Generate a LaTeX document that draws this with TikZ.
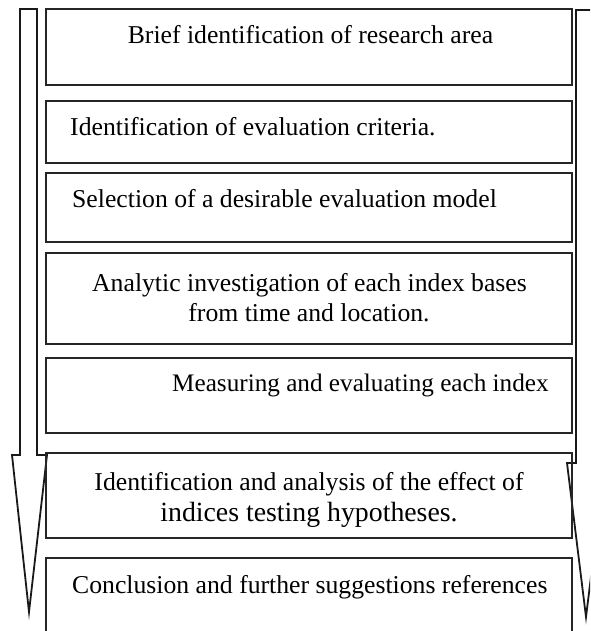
\documentclass[tikz,border=0pt]{standalone}
\usepackage{fontspec}
\setmainfont{Liberation Serif}
\begin{document}
\begin{tikzpicture}[x=1pt,y=-1pt,
  stepbox/.style={draw=black!85, line width=1.7pt, rectangle, inner sep=0pt},
  arrowshape/.style={draw=black!90, line width=1.8pt, fill=white, line join=miter},
  txt/.style={inner sep=0pt, font=\fontsize{25.7}{30}\selectfont, text=black},
  bigtxt/.style={inner sep=0pt, font=\fontsize{27.8}{32}\selectfont, text=black}]
\useasboundingbox (0,0) rectangle (590,631);
\clip (0,0) rectangle (590,631);
% left down arrow
\draw[arrowshape] (20,9) -- (37,9) -- (37,455) -- (47,455) -- (29,612) -- (12,455) -- (20,455) -- cycle;
% right down arrow (cut by the edge)
\draw[arrowshape] (576,10) -- (594,10) -- (594,463) -- (605,463) -- (586,617) -- (567,463) -- (576,463) -- cycle;
% boxes
\node[stepbox, minimum width=526pt, minimum height=76pt] (b1) at (309,47) {};
\node[stepbox, minimum width=526pt, minimum height=62pt] (b2) at (309,132) {};
\node[stepbox, minimum width=526pt, minimum height=69pt] (b3) at (309,207.5) {};
\node[stepbox, minimum width=526pt, minimum height=91pt] (b4) at (309,298.5) {};
\node[stepbox, minimum width=526pt, minimum height=75pt] (b5) at (309,395.5) {};
\node[stepbox, minimum width=526pt, minimum height=85pt] (b6) at (309,495.5) {};
\node[stepbox, minimum width=526pt, minimum height=100pt] (b7) at (309,608) {};
% texts
\node[txt, anchor=base] (t1) at (310.5,43.5) {Brief identification of research area};
\node[txt, anchor=base west] (t2) at (70,136) {Identification of evaluation criteria.};
\node[txt, anchor=base west] (t3) at (72,207.5) {Selection of a desirable evaluation model};
\node[txt, anchor=base] (t4a) at (309.5,291.5) {Analytic investigation of each index bases};
\node[txt, anchor=base] (t4b) at (309,321) {from time and location.};
\node[txt, anchor=base west, font=\fontsize{25.2}{30}\selectfont] (t5) at (172,391.5) {Measuring and evaluating each index};
\node[txt, anchor=base] (t6a) at (309,490) {Identification and analysis of the effect of};
\node[bigtxt, anchor=base] (t6b) at (309,521.5) {indices testing hypotheses.};
\node[txt, anchor=base west] (t7) at (72,593) {Conclusion and further suggestions references};
\end{tikzpicture}
\end{document}
